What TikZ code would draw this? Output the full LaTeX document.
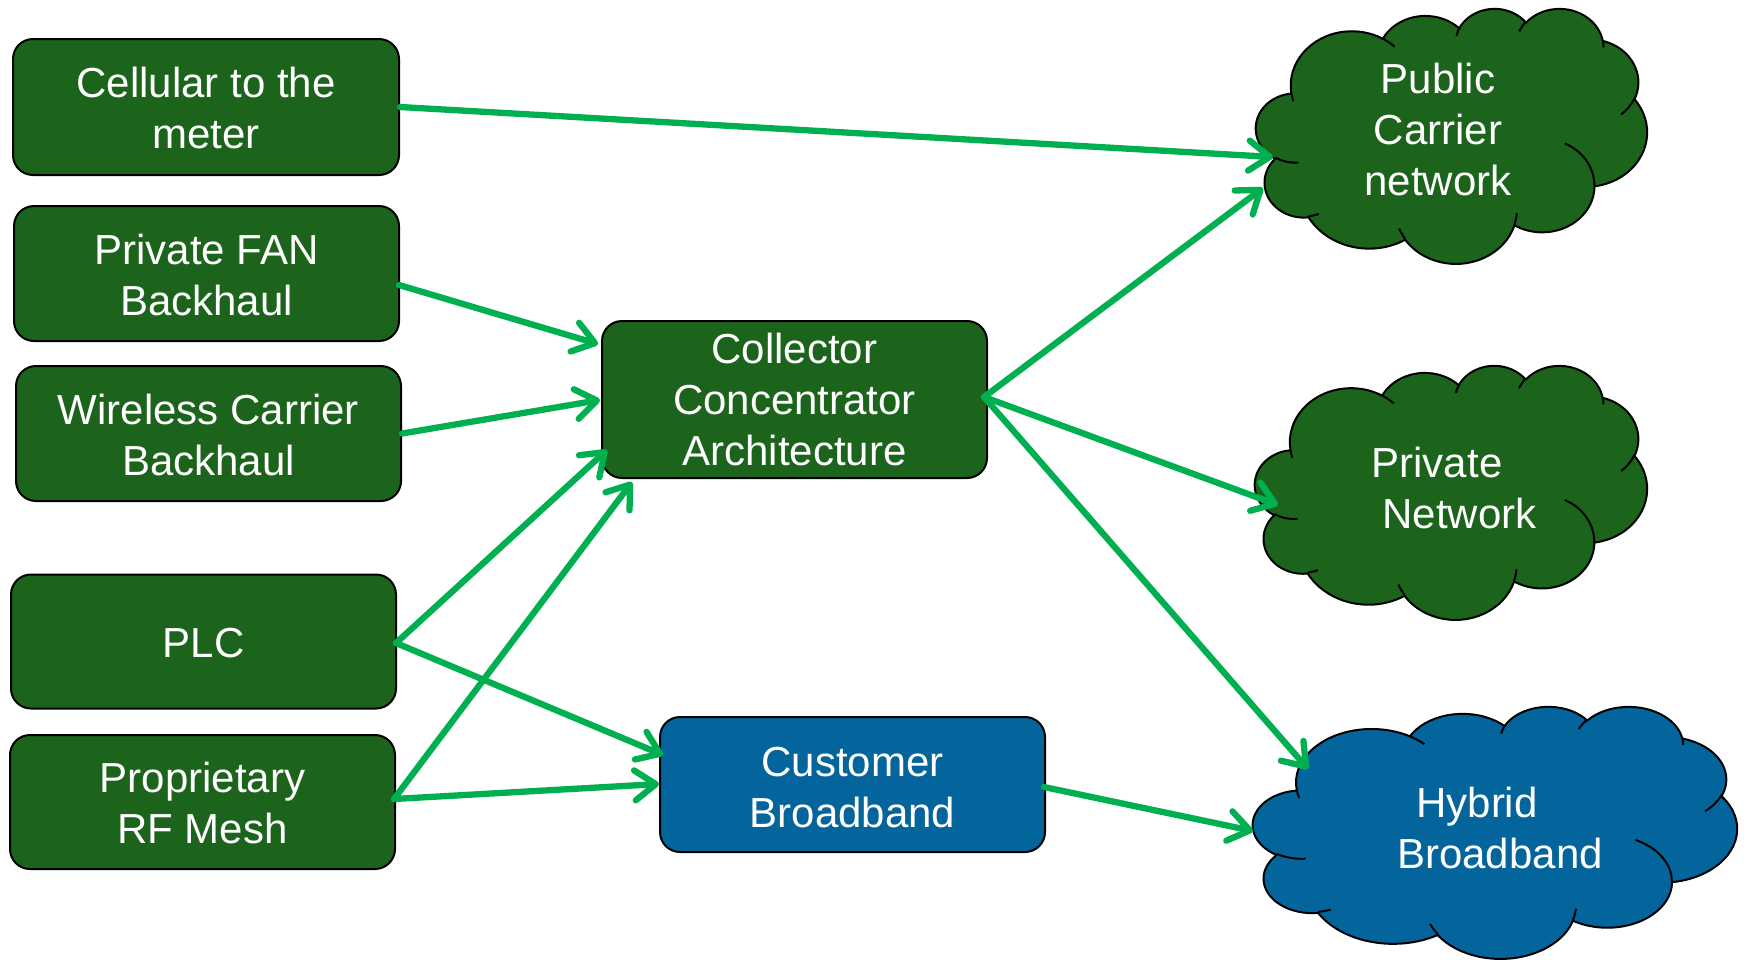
\documentclass[tikz,border=0pt]{standalone}
\usepackage{fontspec}
\setmainfont{Liberation Sans}
\usetikzlibrary{arrows.meta,calc}
\definecolor{boxgreen}{RGB}{28,100,27}
\definecolor{boxblue}{RGB}{3,101,155}
\definecolor{arrowgreen}{RGB}{0,176,80}
% PowerPoint cloud geometry (43200 units / 100), visual -> parametric angles
\newcommand\defcldarc[5]{%
  \pgfmathsetmacro\cldta{atan2((#2)*sin(#4),(#3)*cos(#4))}%
  \pgfmathsetmacro\cldtb{atan2((#2)*sin((#4)+(#5)),(#3)*cos((#4)+(#5)))}%
  \pgfmathsetmacro\cldtd{mod((\cldtb)-(\cldta)+720,360)}%
  \xdef#1{arc[x radius=#2,y radius=#3,start angle=\cldta,delta angle=\cldtd]}}
\defcldarc\cldA{67.53}{91.90}{-190.487}{123.781}
\defcldarc\cldB{53.33}{72.67}{-144.102}{89.945}
\defcldarc\cldC{43.65}{59.45}{-145.808}{99.723}
\defcldarc\cldD{48.57}{65.95}{-130.986}{117.242}
\defcldarc\cldE{53.33}{72.73}{-78.709}{109.027}
\defcldarc\cldF{67.75}{92.20}{-46.267}{130.269}
\defcldarc\cldG{57.85}{78.67}{0.625}{114.033}
\defcldarc\cldH{67.52}{92.15}{22.452}{115.173}
\defcldarc\cldI{77.20}{105.43}{66.243}{75.711}
\defcldarc\cldJ{43.60}{59.18}{-274.942}{146.736}
\defcldarc\cldK{43.45}{59.45}{-246.829}{152.519}
\defcldarc\cliA{43.45}{59.45}{86.742}{26.430}
\defcldarc\cliB{43.60}{59.18}{73.610}{11.447}
\defcldarc\cliC{67.52}{92.15}{137.624}{14.081}
\defcldarc\cliD{67.52}{92.15}{6.453}{15.998}
\defcldarc\cliE{57.85}{78.67}{-70.292}{70.917}
\defcldarc\cliF{53.33}{72.73}{30.318}{27.752}
\defcldarc\cliG{48.57}{65.95}{-13.744}{14.859}
\defcldarc\cliH{48.57}{65.95}{-149.181}{18.195}
\defcldarc\cliI{43.65}{59.45}{-163.494}{17.686}
\defcldarc\cliJ{67.53}{91.90}{-66.707}{12.319}
\defcldarc\cliK{67.53}{91.90}{157.654}{11.858}
\newcommand\pptcloud[5]{%
  \pgfmathsetmacro\cldw{#3/432}\pgfmathsetmacro\cldh{#4/432}%
  \begin{scope}[shift={(#1,#2)},x=\cldw pt,y=-\cldh pt]
    \path[cloudline,fill=#5] (39.00,143.70) \cldA \cldB \cldC \cldD \cldE \cldF \cldG \cldH \cldI \cldJ \cldK -- cycle;
    \path[cloudline] (46.93,261.77) \cliA (69.28,348.99) \cliB (164.78,390.90) \cliC
      (288.27,347.51) \cliD (341.29,229.54) \cliE (417.98,153.54) \cliF
      (383.24,54.26) \cliG (290.78,39.52) \cliH (221.41,47.20) \cliI
      (140.00,51.92) \cliJ (41.27,157.89) \cliK;
  \end{scope}}
% centred lines, lowered by #1 while keeping the box size
\newcommand\lns[2][6pt]{\raisebox{-#1}[\height][\depth]{\begin{tabular}{@{}c@{}}#2\end{tabular}}}
\tikzset{
  cloudline/.style={draw=black,line width=2pt},
  txt/.style={text=white,font=\fontsize{42}{51}\selectfont},
  box/.style={txt,draw=black,line width=2pt,rounded corners=20pt,fill=boxgreen,
    minimum width=385pt,minimum height=135pt,inner sep=0pt},
  bluebox/.style={box,fill=boxblue},
  cloudtext/.style={txt,inner sep=0pt},
  arr/.style={draw=arrowgreen,line width=6.3pt,line cap=round,
    -{Straight Barb[length=21pt,width=30pt,line cap=round,line join=round]}}
}
\begin{document}
\begin{tikzpicture}[x=1pt,y=-1pt]
\useasboundingbox (0,0) rectangle (1749,959);
% boxes
\node[box,minimum width=386pt,minimum height=136pt] (cell) at (206,107) {\lns[5.5pt]{Cellular to the\\meter}};
\node[box] (fan) at (206.5,273.5) {\lns{Private FAN\\Backhaul}};
\node[box] (wire) at (208.5,433.5) {\lns{Wireless Carrier\\Backhaul}};
\node[box,minimum height=134pt] (plc) at (203.5,641.5) {\lns[5.5pt]{PLC}};
\node[box,minimum height=134pt] (rf) at (202.5,802) {\lns{Proprietary\\RF Mesh}};
\node[box,minimum height=157pt] (coll) at (794.5,399.5) {\lns[5pt]{Collector\\Concentrator\\Architecture}};
\node[bluebox] (cust) at (852.5,784.5) {\lns[7pt]{Customer\\Broadband}};
% clouds
\pptcloud{1256}{8}{391}{255}{boxgreen}
\pptcloud{1255}{365}{392}{254}{boxgreen}
\pptcloud{1253}{706}{484}{252}{boxblue}
\node[cloudtext] (pub) at (1438,134.25) {\lns[0.5pt]{Public\\Carrier\\network}};
\node[cloudtext] (priv) at (1437,492.5) {\lns[0.5pt]{Private\\\hspace*{45pt}Network}};
\node[cloudtext] (hyb) at (1477,832.5) {\lns[0.5pt]{Hybrid\\\hspace*{46pt}Broadband}};
% arrow end points
\coordinate (pubInA) at (1273,157);
\coordinate (pubInB) at (1263,188);
\coordinate (privIn) at (1278,505);
\coordinate (hybInA) at (1308,769);
\coordinate (hybInB) at (1253,831);
\coordinate (collInA) at (598,344);
\coordinate (collInB) at (600,400);
\coordinate (collInC) at (607,450);
\coordinate (collInD) at (632,482);
\coordinate (custInA) at (663,755);
\coordinate (custInB) at (659,784);
% connectors
\draw[arr] (cell.east) -- (pubInA);
\draw[arr] ($(fan.east)+(-1,11.5)$) -- (collInA);
\draw[arr] (wire.east) -- (collInB);
\draw[arr] ($(plc.east)+(-1,1.5)$) -- (collInC);
\draw[arr] ($(plc.east)+(-1,1.5)$) -- (custInA);
\draw[arr] ($(rf.east)+(-2,-3)$) -- (collInD);
\draw[arr] ($(rf.east)+(-2,-3)$) -- (custInB);
\draw[arr] ($(coll.east)+(-4,-2.5)$) -- (pubInB);
\draw[arr] ($(coll.east)+(-4,-2.5)$) -- (privIn);
\draw[arr] ($(coll.east)+(-4,-2.5)$) -- (hybInA);
\draw[arr] ($(cust.east)+(-2,2.5)$) -- (hybInB);
\end{tikzpicture}
\end{document}
